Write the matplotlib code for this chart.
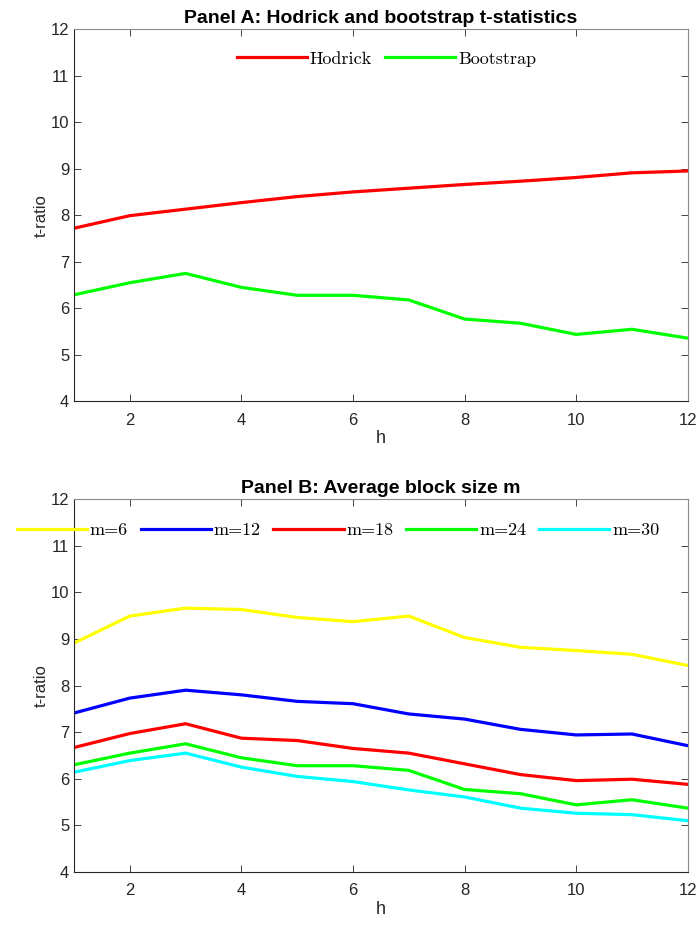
import matplotlib
matplotlib.use("Agg")
import matplotlib.pyplot as plt
import numpy as np

h = np.arange(1, 13)

# Panel A
hodrick = [7.72, 7.99, 8.13, 8.27, 8.40, 8.50, 8.58, 8.66, 8.73, 8.81, 8.91, 8.95]
bootstrap = [6.29, 6.55, 6.75, 6.45, 6.28, 6.28, 6.18, 5.77, 5.68, 5.44, 5.55, 5.36]

# Panel B
m_labels = ['m=6', 'm=12', 'm=18', 'm=24', 'm=30']
m6 = [8.91, 9.49, 9.66, 9.63, 9.46, 9.37, 9.49, 9.03, 8.82, 8.75, 8.67, 8.43]
m12 = [7.41, 7.73, 7.90, 7.80, 7.66, 7.61, 7.39, 7.28, 7.06, 6.94, 6.96, 6.71]
m18 = [6.67, 6.97, 7.18, 6.87, 6.82, 6.65, 6.55, 6.32, 6.09, 5.96, 5.99, 5.88]
m24 = [6.30, 6.55, 6.75, 6.45, 6.28, 6.28, 6.18, 5.77, 5.68, 5.44, 5.55, 5.37]
m30 = [6.14, 6.39, 6.55, 6.25, 6.05, 5.94, 5.76, 5.61, 5.37, 5.26, 5.23, 5.10]

plt.rcParams['font.family'] = ['Liberation Sans', 'DejaVu Sans']

LW = 2.3
legend_font = {'family': 'cmr10', 'size': 13}
DARK = '#262626'


def style_axes(ax):
    ax.set_xlim(1, 12)
    ax.set_ylim(4, 12)
    ax.set_xticks(np.arange(2, 13, 2))
    ax.set_yticks(np.arange(4, 13, 1))
    ax.tick_params(direction='in', top=True, right=True, labelsize=12,
                   colors=DARK, length=5, width=0.6)
    ax.tick_params(axis='x', pad=8)
    for side, s in ax.spines.items():
        s.set_color(DARK if side in ('left', 'bottom') else '#8a8a8a')
        s.set_linewidth(0.8)
    ax.set_xlabel('h', fontsize=13, color=DARK, labelpad=2)
    ax.set_ylabel('t-ratio', fontsize=12, color=DARK, labelpad=1)


fig = plt.figure(figsize=(6.99, 9.25), dpi=100)

ax1 = fig.add_axes([0.1059, 0.566, 0.878, 0.4027])
ax1.plot(h, hodrick, color=(1, 0, 0), lw=LW, label='Hodrick')
ax1.plot(h, bootstrap, color=(0, 1, 0), lw=LW, label='Bootstrap')
style_axes(ax1)
ax1.set_title('Panel A: Hodrick and bootstrap t-statistics', fontsize=14,
              fontweight='bold', pad=4)
ax1.legend(loc='center', bbox_to_anchor=(0.509, 1 - 30 / 372), ncol=2, frameon=False,
           prop=legend_font, handlelength=3.9, handletextpad=0.15, columnspacing=0.7)

ax2 = fig.add_axes([0.1059, 0.0573, 0.878, 0.4032])
colors = [(1, 1, 0), (0, 0, 1), (1, 0, 0), (0, 1, 0), (0, 1, 1)]
for vals, c, lab in zip([m6, m12, m18, m24, m30], colors, m_labels):
    ax2.plot(h, vals, color=c, lw=LW, label=lab)
style_axes(ax2)
ax2.set_title('Panel B: Average block size m', fontsize=14, fontweight='bold', pad=4)
fig.legend(*ax2.get_legend_handles_labels(), loc='center',
           bbox_to_anchor=(338 / 699, 1 - 530 / 925), ncol=5, frameon=False,
           prop=legend_font, handlelength=3.9, handletextpad=0.15, columnspacing=0.7)

fig.savefig('out.png', dpi=100)
